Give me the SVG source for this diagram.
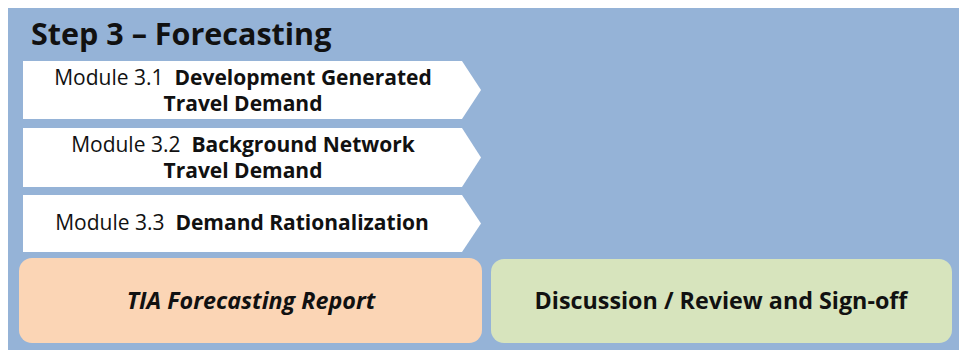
<svg xmlns="http://www.w3.org/2000/svg" width="959" height="354" viewBox="0 0 959 354">
<style>
text{font-family:"Open Sans","Liberation Sans",sans-serif;fill:#111;white-space:pre;}
.t{font-size:30.5px;font-weight:bold;}
.m{font-size:21px;text-anchor:middle;}
.b{font-weight:bold;}
.chev{fill:#fff;}
.big{font-size:23.3px;font-weight:bold;text-anchor:middle;}
</style>
<rect id="panel" x="8" y="8" width="951" height="342" fill="#95B3D7"/>
<text class="t" x="31" y="45">Step 3 – Forecasting</text>
<g id="m31">
<polygon class="chev" points="23,61 462,61 481,90 462,119 23,119"/>
<text class="m" x="243" y="85" xml:space="preserve">Module 3.1  <tspan class="b">Development Generated</tspan></text>
<text class="m b" x="243" y="111">Travel Demand</text>
</g>
<g id="m32">
<polygon class="chev" points="23,128 462,128 481,157.5 462,187 23,187"/>
<text class="m" x="243" y="152" xml:space="preserve">Module 3.2  <tspan class="b">Background Network</tspan></text>
<text class="m b" x="243" y="178">Travel Demand</text>
</g>
<g id="m33">
<polygon class="chev" points="23,195 462,195 481,223.5 462,252 23,252"/>
<text class="m" x="242" y="230" xml:space="preserve">Module 3.3  <tspan class="b">Demand Rationalization</tspan></text>
</g>
<g id="report">
<rect x="19" y="258" width="463" height="85" rx="13" fill="#FBD5B5"/>
<text class="big" x="251" y="309" font-style="italic">TIA Forecasting Report</text>
</g>
<g id="signoff">
<rect x="491" y="259" width="461" height="84" rx="13" fill="#D7E4BD"/>
<text class="big" x="721" y="309">Discussion / Review and Sign-off</text>
</g>
<g id="connectors"></g>
</svg>
